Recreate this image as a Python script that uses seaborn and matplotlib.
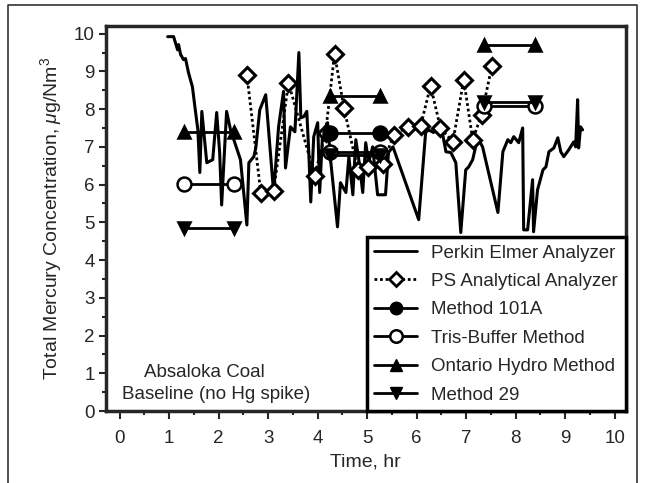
import numpy as np
import pandas as pd
import seaborn as sns
import matplotlib.pyplot as plt
from matplotlib.lines import Line2D

# Perkin Elmer analyzer (continuous)
pe_time = [0.97, 1.09, 1.17, 1.19, 1.23, 1.29, 1.33, 1.39, 1.47, 1.52, 1.58, 1.62, 1.66,
           1.76, 1.88, 1.96, 2.02, 2.06, 2.16, 2.24, 2.44, 2.57, 2.61, 2.71, 2.75, 2.83,
           2.95, 3.11, 3.21, 3.31, 3.35, 3.45, 3.54, 3.62, 3.66, 3.72, 3.78, 3.82, 3.86,
           3.92, 4.00, 4.04, 4.10, 4.20, 4.26, 4.40, 4.46, 4.57, 4.63, 4.71, 4.77, 4.83,
           4.91, 4.97, 5.03, 5.11, 5.21, 5.37, 5.43, 5.52, 6.04, 6.18, 6.24, 6.34, 6.48,
           6.59, 6.69, 6.79, 6.89, 6.99, 7.05, 7.13, 7.19, 7.23, 7.33, 7.64, 7.74, 7.84,
           7.90, 7.96, 8.06, 8.14, 8.16, 8.24, 8.34, 8.36, 8.44, 8.55, 8.61, 8.67, 8.77,
           8.85, 8.91, 8.97, 9.07, 9.17, 9.21, 9.25, 9.27, 9.31, 9.35]
pe_hg = [9.92, 9.92, 9.57, 9.71, 9.45, 9.31, 9.34, 8.97, 8.59, 8.06, 7.45, 6.32, 7.94,
         6.58, 6.66, 7.91, 6.85, 5.46, 7.94, 7.45, 6.66, 4.93, 6.58, 6.74, 6.97, 7.98,
         8.38, 5.79, 7.53, 8.47, 6.44, 7.53, 7.40, 9.50, 7.77, 7.80, 7.94, 6.85, 5.54,
         7.27, 7.64, 5.79, 7.38, 7.64, 6.66, 4.88, 6.05, 5.79, 6.74, 5.73, 7.19, 6.66,
         5.79, 7.11, 6.58, 7.00, 5.73, 5.73, 6.85, 7.00, 5.07, 7.38, 7.45, 7.38, 7.64,
         6.87, 6.85, 6.58, 4.73, 6.39, 6.47, 6.66, 7.00, 7.24, 7.00, 5.26, 6.87, 7.19,
         7.11, 7.27, 7.11, 7.50, 4.80, 4.80, 6.13, 4.75, 5.86, 6.39, 6.47, 6.87, 6.97,
         7.24, 6.87, 6.74, 6.92, 7.13, 7.00, 8.25, 6.97, 7.53, 7.45]

# PS Analytical analyzer
ps_time = [2.57, 2.85, 3.11, 3.41, 3.94, 4.16, 4.34, 4.53, 4.81, 5.01, 5.31, 5.54, 5.82,
           6.08, 6.28, 6.48, 6.73, 6.95, 7.13, 7.31, 7.52]
ps_hg = [8.91, 5.79, 5.83, 8.70, 6.24, 7.38, 9.47, 8.03, 6.39, 6.47, 6.55, 7.32, 7.53,
         7.56, 8.62, 7.50, 7.13, 8.78, 7.19, 7.85, 9.15]

# wet-chemistry sampling runs: start / end time of each run
run_start = [1.29, 4.24, 7.35]
run_end = [2.30, 5.25, 8.38]
m101a = [np.nan, 7.38, np.nan]
tris = [6.02, 6.87, 8.09]
ontario = [7.40, 8.36, 9.71]
m29 = [4.85, 6.79, 8.20]

sns.set_style("ticks")
plt.rcParams['font.family'] = ['Liberation Sans', 'DejaVu Sans']
plt.rcParams['mathtext.fontset'] = 'custom'
plt.rcParams['mathtext.rm'] = 'Liberation Sans'
plt.rcParams['mathtext.it'] = 'Liberation Sans:italic'

fig = plt.figure(figsize=(6.45, 4.83), dpi=100)
ax = fig.add_axes([0.164, 0.149, 0.806, 0.797])

pe_df = pd.DataFrame({"time": pe_time, "hg": pe_hg})
ps_df = pd.DataFrame({"time": ps_time, "hg": ps_hg})

sns.lineplot(data=pe_df, x="time", y="hg", ax=ax, sort=False, color="black", lw=2.2)
sns.lineplot(data=ps_df, x="time", y="hg", ax=ax, sort=False, color="black", lw=2,
             linestyle=(0, (1, 1)), marker="D", markersize=8, markerfacecolor="white",
             markeredgecolor="black", markeredgewidth=2.2)

methods = [
    ("Method 101A", m101a, "o", "black", 10),
    ("Tris-Buffer Method", tris, "o", "white", 10),
    ("Ontario Hydro Method", ontario, "^", "black", 9),
    ("Method 29", m29, "v", "black", 9),
]
for name, vals, mk, fc, ms in methods:
    for s, e, v in zip(run_start, run_end, vals):
        if np.isnan(v):
            continue
        run = pd.DataFrame({"time": [s, e], "hg": [v, v]})
        sns.lineplot(data=run, x="time", y="hg", ax=ax, color="black", lw=2,
                     marker=mk, markersize=ms, markerfacecolor=fc,
                     markeredgecolor="black", markeredgewidth=1.8)

ax.set_xlim(-0.28, 10.22)
ax.set_ylim(0, 10.2)
ax.set_xticks(range(0, 11))
ax.set_yticks(range(0, 11))
ax.set_xticks(np.arange(0.5, 10, 1), minor=True)
ax.set_yticks(np.arange(0.5, 10, 1), minor=True)
ax.tick_params(which="major", length=5, width=1.5, labelsize=13.5, pad=3)
ax.tick_params(axis="x", which="major", length=6, pad=8)
ax.tick_params(which="minor", length=3, width=1.5)
for sp in ax.spines.values():
    sp.set_visible(True)
    sp.set_linewidth(2.5)

ax.set_xlabel("Time, hr", fontsize=14, labelpad=4)
ax.set_ylabel(r"Total Mercury Concentration, $\mu$g/Nm$^3$", fontsize=14, labelpad=7)

ax.text(1.72, 1.03, "Absaloka Coal", ha="center", va="center", fontsize=13.5)
ax.text(1.94, 0.44, "Baseline (no Hg spike)", ha="center", va="center", fontsize=13.5)

handles = [
    Line2D([], [], color="black", lw=2),
    Line2D([], [], color="black", lw=2, linestyle=(0, (1, 1)), marker="D", markersize=7,
           markerfacecolor="white", markeredgewidth=2),
    Line2D([], [], color="black", lw=2, marker="o", markersize=9, markerfacecolor="black"),
    Line2D([], [], color="black", lw=2, marker="o", markersize=9, markerfacecolor="white",
           markeredgewidth=1.8),
    Line2D([], [], color="black", lw=2, marker="^", markersize=8, markerfacecolor="black"),
    Line2D([], [], color="black", lw=2, marker="v", markersize=8, markerfacecolor="black"),
]
labels = ["Perkin Elmer Analyzer", "PS Analytical Analyzer", "Method 101A",
          "Tris-Buffer Method", "Ontario Hydro Method", "Method 29"]
leg = ax.legend(handles, labels, loc="lower right", borderaxespad=0, fontsize=13.5,
                frameon=True, fancybox=False, framealpha=1, edgecolor="black",
                handlelength=2.3, handletextpad=0.75, labelspacing=0.6,
                borderpad=0.4)
leg.get_frame().set_linewidth(2.5)

# outer frame of the figure panel
fig.add_artist(Line2D([0.013, 0.013, 0.988, 0.988], [-0.1, 0.989, 0.989, -0.1],
                      transform=fig.transFigure, color="#333333", lw=1.2))

fig.savefig("out.png", dpi=100)
